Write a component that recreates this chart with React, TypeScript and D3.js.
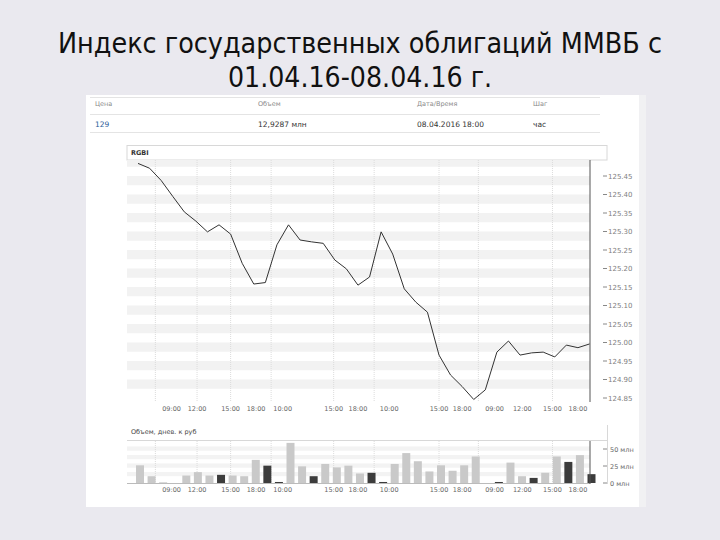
import React from 'react';
import * as d3 from 'd3';

const TITLE_LINES = ['Индекс государственных облигаций ММВБ с', '01.04.16-08.04.16 г.'];
const HEADER_LABELS = ['Цена', 'Объем', 'Дата/Время', 'Шаг'];
const HEADER_VALUES = ['129', '12,9287 млн', '08.04.2016 18:00', 'час'];
const SERIES_NAME = 'RGBI';
const VOLUME_TITLE = 'Объем, днев. к руб';

const PRICE = [
  125.484, 125.471, 125.438, 125.395, 125.353, 125.328, 125.299, 125.318, 125.293, 125.214,
  125.158, 125.162, 125.264, 125.318, 125.277, 125.272, 125.268, 125.223, 125.199, 125.155,
  125.177, 125.299, 125.239, 125.145, 125.109, 125.082, 124.966, 124.912, 124.881, 124.846,
  124.872, 124.974, 125.004, 124.966, 124.972, 124.974, 124.961, 124.993, 124.986, 124.996,
];
const VOLUME = [
  26, 10, 1, 0, 11, 16, 11, 12, 11, 10,
  34, 25.5, 1.5, 59, 24.5, 10, 28, 23, 25.5, 14,
  15, 1.5, 28, 44, 32, 17, 26, 18, 26, 39,
  0, 1.5, 30, 10, 7.5, 15, 39, 31, 41, 13,
];
const VOLUME_DOWN = [
  0, 0, 0, 0, 0, 0, 0, 1, 0, 0,
  0, 1, 1, 0, 0, 1, 0, 0, 0, 0,
  1, 1, 0, 0, 0, 0, 0, 0, 0, 0,
  0, 1, 0, 0, 1, 0, 0, 1, 0, 1,
];
const TIME_TICK_POS = [2.9, 5.1, 8, 10.2, 12.5, 16.9, 19, 21.7, 26, 28, 30.8, 33.2, 35.8, 38];
const TIME_TICK_LABELS = ['09:00', '12:00', '15:00', '18:00', '10:00', '15:00', '18:00', '10:00', '15:00', '18:00', '09:00', '12:00', '15:00', '18:00'];
const GRID_POS = [1.5, 5.1, 8, 11.5, 16.9, 20.4, 26, 29.4, 35.8];
const PRICE_TICKS = [125.45, 125.4, 125.35, 125.3, 125.25, 125.2, 125.15, 125.1, 125.05, 125.0, 124.95, 124.9, 124.85];
const VOLUME_TICKS = [50, 25, 0];
const VOLUME_TICK_LABELS = ['50 млн', '25 млн', '0 млн'];

export default function App() {
  const W = 720, H = 540;
  const plotL = 127, plotR = 590;
  const x = d3.scaleLinear().domain([0, PRICE.length - 1]).range([138, 589.5]);
  const y = d3.scaleLinear().domain([124.85, 125.45]).range([398, 176]);
  const yv = d3.scaleLinear().domain([0, 50]).range([483, 449]);
  const line = d3.line<number>().x((_, i) => x(i)).y((d) => y(d));
  const small = 'DejaVu Sans';
  const mainTop = 160, mainBot = 402;
  const stripeVals = d3.range(0, 26).map((k) => 125.5 - k * 0.025);
  const volStripes = d3.range(0, 8).map((k) => 60 - k * 6.25);
  const barW = 8;
  const tableCols = [95, 258, 417, 533];

  return (
    <div style={{ position: 'fixed', left: 0, top: 0 }}>
      <svg width={W} height={H} style={{ display: 'block' }}>
        <rect x={0} y={0} width={W} height={H} fill="#eae9ef" />
        {TITLE_LINES.map((t, i) => (
          <text key={i} x={360} y={i === 0 ? 53 : 87} textAnchor="middle"
            fontFamily="'DejaVu Sans Condensed', 'DejaVu Sans', sans-serif" fontStretch="condensed"
            fontSize={28} fill="#111" textLength={i === 0 ? 604 : 264} lengthAdjust="spacingAndGlyphs">{t}</text>
        ))}
        {/* screenshot panel */}
        <rect x={86} y={95} width={560} height={412} fill="#ffffff" />
        <rect x={639} y={95} width={7} height={412} fill="#f1f1f3" />
        {/* header table */}
        <line x1={90} x2={600} y1={97.5} y2={97.5} stroke="#e4e4e4" />
        <line x1={90} x2={600} y1={114.5} y2={114.5} stroke="#e4e4e4" />
        <line x1={90} x2={600} y1={132.5} y2={132.5} stroke="#e4e4e4" />
        {HEADER_LABELS.map((t, i) => (
          <text key={t} x={tableCols[i]} y={106} fontFamily={small} fontSize={6.5} fill="#8a8a8a">{t}</text>
        ))}
        {HEADER_VALUES.map((t, i) => (
          <text key={t} x={tableCols[i]} y={127} fontFamily={small} fontSize={7.5} fill={i === 0 ? '#2a5d9a' : '#333'}>{t}</text>
        ))}

        {/* main chart */}
        <rect x={plotL} y={145.5} width={480} height={14.5} fill="#fff" stroke="#d8d8d8" />
        <text x={131} y={155} fontFamily={small} fontSize={6.5} fill="#333" fontWeight="bold">{SERIES_NAME}</text>
        <clipPath id="mainclip"><rect x={plotL} y={mainTop} width={plotR - plotL} height={mainBot - mainTop} /></clipPath>
        <g clipPath="url(#mainclip)">
          {stripeVals.map((v, k) => k % 2 === 0 ? (
            <rect key={k} x={plotL} y={y(v)} width={plotR - plotL} height={y(v - 0.025) - y(v)} fill="#f2f2f2" />
          ) : null)}
        </g>
        {GRID_POS.map((g, k) => (
          <line key={k} x1={x(g)} x2={x(g)} y1={mainTop} y2={mainBot} stroke="#dcdcdc" strokeDasharray="1,1" />
        ))}
        <line x1={plotR} x2={plotR} y1={mainTop} y2={mainBot} stroke="#555" strokeWidth={1} />
        <path d={line(PRICE) || ''} fill="none" stroke="#333" strokeWidth={1} />
        {PRICE_TICKS.map((v) => (
          <g key={v}>
            <line x1={603} x2={607} y1={y(v)} y2={y(v)} stroke="#888" />
            <text x={608} y={y(v) + 2.5} fontFamily={small} fontSize={7} fill="#808080">{v.toFixed(2)}</text>
          </g>
        ))}
        {TIME_TICK_POS.map((p, k) => (
          <text key={k} x={x(p)} y={411} textAnchor="middle" fontFamily={small} fontSize={6.5} fill="#666">{TIME_TICK_LABELS[k]}</text>
        ))}

        {/* volume chart */}
        <line x1={plotL} x2={607} y1={440.5} y2={440.5} stroke="#d8d8d8" />
        <line x1={607.5} x2={607.5} y1={425} y2={484} stroke="#d8d8d8" />
        <text x={131} y={434} fontFamily={small} fontSize={6.5} fill="#444">{VOLUME_TITLE}</text>
        {volStripes.map((v, k) => k % 2 === 1 ? (
          <rect key={k} x={plotL} y={yv(v)} width={plotR - plotL} height={yv(v - 6.25) - yv(v)} fill="#f3f3f3" />
        ) : null)}
        {GRID_POS.map((g, k) => (
          <line key={k} x1={x(g)} x2={x(g)} y1={441} y2={484} stroke="#dcdcdc" strokeDasharray="1,1" />
        ))}
        {VOLUME.map((v, i) => (
          <rect key={i} x={x(i) - barW / 2 + 2} y={yv(v)} width={barW} height={yv(0) - yv(v)}
            fill={VOLUME_DOWN[i] ? '#3c3c3c' : '#c9c9c9'} />
        ))}
        <line x1={plotL} x2={plotR} y1={483.5} y2={483.5} stroke="#bbb" />
        <line x1={plotR} x2={plotR} y1={441} y2={484} stroke="#555" />
        {VOLUME_TICKS.map((v, k) => (
          <g key={v}>
            <line x1={603} x2={607} y1={yv(v)} y2={yv(v)} stroke="#888" />
            <text x={610} y={yv(v) + 2.5} fontFamily={small} fontSize={6.5} fill="#666">{VOLUME_TICK_LABELS[k]}</text>
          </g>
        ))}
        {TIME_TICK_POS.map((p, k) => (
          <text key={k} x={x(p)} y={492} textAnchor="middle" fontFamily={small} fontSize={6.5} fill="#666">{TIME_TICK_LABELS[k]}</text>
        ))}
      </svg>
    </div>
  );
}
